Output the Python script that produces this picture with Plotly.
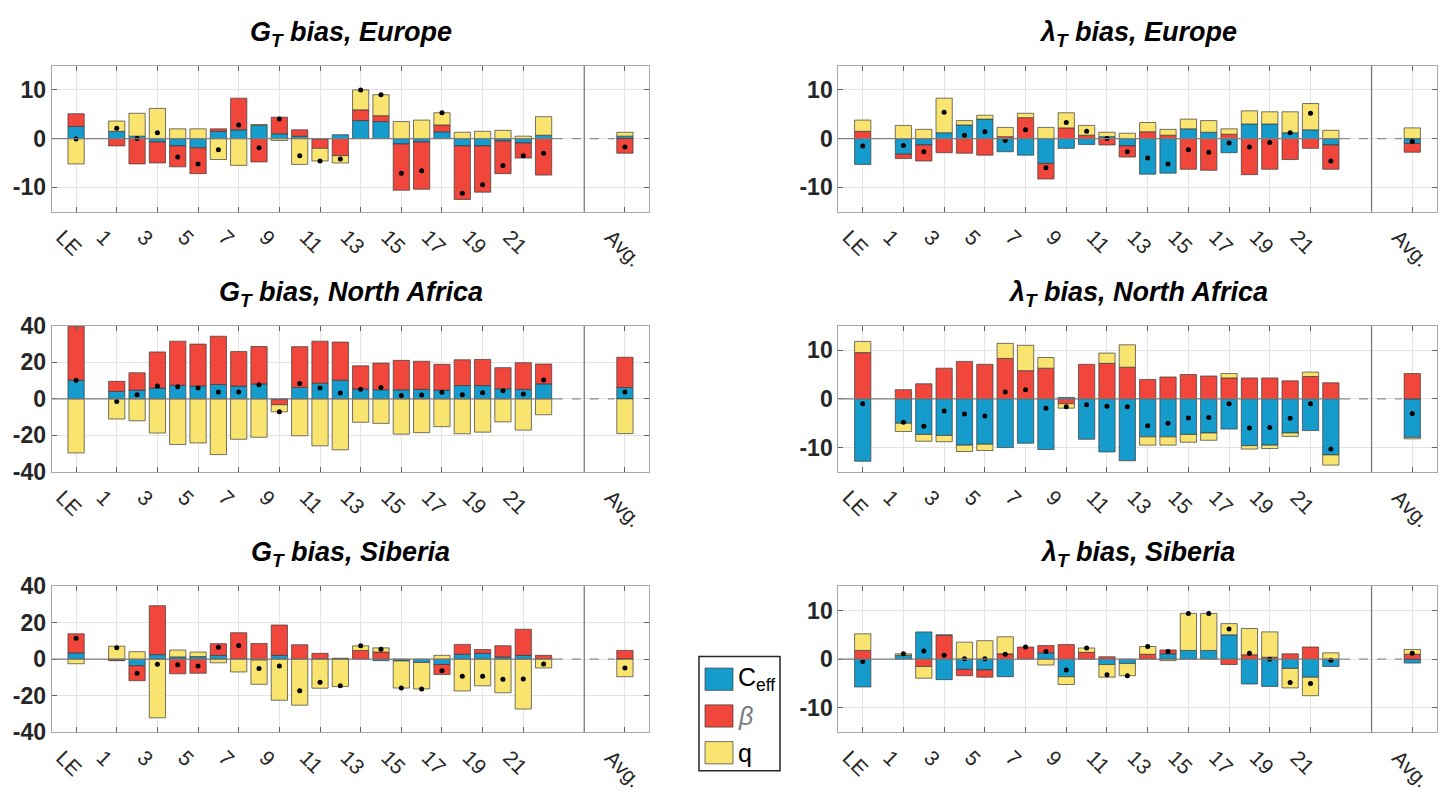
import plotly.graph_objects as go

# ---------------------------------------------------------------- data
CATEGORIES = ["LE"] + [str(n) for n in range(1, 23)] + ["Avg."]
TICK_LABELS = ["LE"] + [str(n) for n in range(1, 22, 2)] + ["Avg."]

# G_T bias, Europe
GT_EUR_CEFF = [2.5, 1.5, 0.5, -0.7, -1.5, -1.9, 1.5, 1.8, 2.7, 1.0, 0.5, -0.1, 0.8, 3.7, 3.5, -1.1, -0.7, 1.4, -1.5, -1.5, -0.5, -0.9, 0.7, 0.5]
GT_EUR_BETA = [2.6, -1.5, -5.2, -4.3, -4.3, -5.3, 0.5, 6.5, -4.8, 3.4, 1.3, -1.9, -3.5, 2.2, 1.2, -9.5, -9.7, 1.4, -11.0, -9.5, -6.7, -3.1, -7.5, -3.0]
GT_EUR_Q = [-5.2, 2.1, 4.7, 6.2, 2.0, 2.0, -4.3, -5.5, 0.2, -0.4, -5.3, -2.6, -1.5, 4.1, 4.3, 3.5, 3.8, 2.5, 1.3, 1.5, 1.7, 0.5, 3.8, 0.8]

# lambda_T bias, Europe
LT_EUR_CEFF = [-5.3, -3.2, -1.3, 1.2, 2.8, 4.0, -2.7, -3.4, -5.1, -2.0, -1.2, 0.4, -1.5, -7.3, -7.1, 2.0, 1.3, -2.9, 3.0, 3.0, 1.2, 1.8, -1.3, -1.0]
LT_EUR_BETA = [1.5, -0.9, -3.3, -2.9, -3.0, -3.4, 0.4, 4.3, -3.2, 2.2, 0.7, -1.3, -2.3, 1.4, 0.7, -6.3, -6.5, 0.9, -7.4, -6.3, -4.3, -2.0, -5.0, -1.8]
LT_EUR_Q = [2.3, 2.7, 1.9, 7.1, 0.9, 0.8, 1.9, 0.9, 2.3, 3.1, 2.0, 0.9, 1.1, 1.9, 1.2, 2.0, 2.4, 1.1, 2.7, 2.5, 4.3, 5.4, 1.7, 2.2]

# G_T bias, North Africa
GT_NAF_CEFF = [10.2, 4.1, 4.8, 5.9, 7.5, 7.1, 7.9, 7.0, 8.2, -0.4, 6.3, 8.6, 10.2, 5.4, 5.0, 5.0, 5.2, 4.8, 7.3, 7.3, 5.5, 5.2, 8.2, 6.2]
GT_NAF_BETA = [29.6, 5.5, 9.5, 19.8, 24.1, 22.9, 26.4, 18.9, 20.5, -2.8, 22.3, 23.0, 20.9, 12.7, 14.6, 16.1, 15.4, 14.1, 14.1, 14.3, 11.6, 14.6, 10.9, 16.6]
GT_NAF_Q = [-29.6, -11.0, -12.0, -18.7, -25.0, -24.1, -30.5, -22.1, -21.0, -3.9, -20.2, -25.7, -27.9, -12.8, -13.4, -19.3, -18.5, -15.2, -19.1, -18.2, -12.6, -17.1, -8.7, -19.0]

# lambda_T bias, North Africa
LT_NAF_CEFF = [-12.8, -5.0, -7.3, -7.5, -9.5, -9.3, -10.0, -9.1, -10.4, 0.3, -8.3, -10.9, -12.7, -7.8, -7.8, -7.3, -7.0, -6.2, -9.6, -9.5, -7.0, -6.5, -11.5, -7.9]
LT_NAF_BETA = [9.5, 1.9, 3.1, 6.3, 7.7, 7.1, 8.3, 5.8, 6.3, -1.0, 7.1, 7.3, 6.5, 4.0, 4.5, 5.0, 4.7, 4.3, 4.3, 4.3, 3.7, 4.6, 3.3, 5.2]
LT_NAF_Q = [2.3, -1.7, -1.4, -1.3, -1.3, -1.3, 3.1, 5.2, 2.2, -0.9, 0.0, 2.1, 4.6, -1.7, -1.7, -1.6, -1.5, 0.9, -0.7, -0.7, -0.7, 0.9, -2.1, -0.3]

# G_T bias, Siberia
GT_SIB_CEFF = [3.4, -0.4, -3.6, 2.5, 1.25, 1.4, 2.1, 0.2, -0.5, 2.1, 0.0, 0.2, 0.3, 0.0, -0.8, -1.0, -1.8, -2.9, 2.7, 3.2, 1.25, 2.1, 0.1, 0.1]
GT_SIB_BETA = [10.5, -0.4, -8.2, 26.8, -8.0, -7.7, 6.4, 14.3, 8.6, 16.6, 7.9, 3.0, 0.2, 4.8, 3.9, 0.0, 0.0, -5.5, 5.4, 2.1, 6.1, 14.3, 2.0, 4.7]
GT_SIB_Q = [-2.5, 7.1, 4.1, -32.1, 3.75, 2.5, -2.0, -7.0, -13.25, -22.5, -25.2, -15.9, -15.0, 2.5, 2.3, -14.8, -14.5, 2.1, -17.4, -14.6, -18.4, -27.3, -4.8, -9.6]

# lambda_T bias, Siberia
LT_SIB_CEFF = [-5.7, 0.8, 5.6, -4.2, -2.1, -2.2, -3.6, 0.0, 1.3, -3.6, 0.0, -1.1, -0.9, 0.0, 1.1, 1.8, 1.8, 5.0, -5.1, -5.6, -1.9, -3.7, -1.5, -0.8]
LT_SIB_BETA = [1.8, 0.0, -1.5, 4.9, -1.3, -1.5, 1.1, 2.5, 1.5, 3.0, 1.4, 0.5, 0.0, 1.0, 0.8, 0.0, 0.0, -1.1, 0.9, 0.4, 1.1, 2.5, 0.0, 1.0]
LT_SIB_Q = [3.4, 0.3, -2.4, 0.1, 3.5, 3.8, 3.5, 0.0, -1.2, -1.6, 0.9, -2.6, -2.5, 1.6, -0.3, 7.6, 7.6, 2.3, 5.4, 5.2, -4.0, -3.8, 1.3, 1.0]

SERIES_NAMES = ["C<sub>eff</sub>", "<i>β</i>", "q"]

# ---------------------------------------------------------------- style
BLUE = "#159BCC"
RED = "#F0463B"
YELLOW = "#F9E46F"
COLORS = [BLUE, RED, YELLOW]
EDGE = "#3b3b3b"
FONT = "Liberation Sans, Arial, Helvetica, sans-serif"
TICK_COLOR = "#262626"
GRID = "#e4e4e4"
FRAME = "#a8a8a8"

W, H = 1445, 803
COLS = [(51.7, 649.3), (838.3, 1436.7)]
ROW_TOPS = [54.3, 323.3, 592.3]
PLOT_H = 151.0
TITLE_Y = [22, 290.5, 559.5]
X_RANGE = [-2.2, 27.2]
SEPARATOR_X = 24
GAP_START, GAP_END = 22.5, 25.5


def cat_pos(c):
    if c == "LE":
        return -1
    if c == "Avg.":
        return 26
    return int(c)


X = [cat_pos(c) for c in CATEGORIES]
TICK_POS = [cat_pos(c) for c in TICK_LABELS]


def px_x(x):
    return x / W


def px_y(y):
    return 1 - y / H


def clean(vals):
    return [v if v != 0 else None for v in vals]


panels = [
    ("G<sub>T</sub> bias, Europe", (GT_EUR_CEFF, GT_EUR_BETA, GT_EUR_Q), 15, [-10, 0, 10], 0, 0),
    ("λ<sub>T</sub> bias, Europe", (LT_EUR_CEFF, LT_EUR_BETA, LT_EUR_Q), 15, [-10, 0, 10], 0, 1),
    ("G<sub>T</sub> bias, North Africa", (GT_NAF_CEFF, GT_NAF_BETA, GT_NAF_Q), 40, [-40, -20, 0, 20, 40], 1, 0),
    ("λ<sub>T</sub> bias, North Africa", (LT_NAF_CEFF, LT_NAF_BETA, LT_NAF_Q), 15, [-10, 0, 10], 1, 1),
    ("G<sub>T</sub> bias, Siberia", (GT_SIB_CEFF, GT_SIB_BETA, GT_SIB_Q), 40, [-40, -20, 0, 20, 40], 2, 0),
    ("λ<sub>T</sub> bias, Siberia", (LT_SIB_CEFF, LT_SIB_BETA, LT_SIB_Q), 15, [-10, 0, 10], 2, 1),
]

fig = go.Figure()
layout = dict(
    width=W, height=H,
    margin=dict(l=0, r=0, t=0, b=0),
    paper_bgcolor="white", plot_bgcolor="white",
    barmode="relative", bargap=0.2,
    showlegend=False,
    font=dict(family=FONT, color=TICK_COLOR),
)
shapes = []
annotations = []

for i, (title, series, ylim, yticks, row, col) in enumerate(panels, start=1):
    xa = "x" if i == 1 else f"x{i}"
    ya = "y" if i == 1 else f"y{i}"
    x0px, x1px = COLS[col]
    top = ROW_TOPS[row]
    bottom = top + PLOT_H

    for name, vals, color in zip(SERIES_NAMES, series, COLORS):
        fig.add_trace(go.Bar(
            x=X, y=clean(vals), name=name, width=0.8,
            marker=dict(color=color, line=dict(color=EDGE, width=0.7)),
            xaxis=xa, yaxis=ya, showlegend=False,
        ))
    net = [round(a + b + c, 3) for a, b, c in zip(*series)]
    fig.add_trace(go.Scatter(
        x=X, y=net, mode="markers",
        marker=dict(color="black", size=5),
        xaxis=xa, yaxis=ya, showlegend=False,
    ))

    layout["xaxis" if i == 1 else f"xaxis{i}"] = dict(
        domain=[px_x(x0px), px_x(x1px)], anchor=ya, range=X_RANGE,
        tickmode="array", tickvals=TICK_POS, ticktext=TICK_LABELS,
        tickangle=45, tickfont=dict(size=21, color=TICK_COLOR, family=FONT),
        ticks="inside", ticklen=5, tickcolor="#606060",
        showline=True, linecolor=FRAME, linewidth=1, mirror="allticks",
        showgrid=True, gridcolor=GRID, gridwidth=1, zeroline=False,
        ticklabelshift=-14, ticklabelstandoff=4,
    )
    layout["yaxis" if i == 1 else f"yaxis{i}"] = dict(
        domain=[px_y(bottom), px_y(top)], anchor=xa, range=[-ylim, ylim],
        tickmode="array", tickvals=yticks, ticktext=[str(v) for v in yticks],
        tickfont=dict(size=23, color=TICK_COLOR, family=FONT, weight="bold"),
        ticks="inside", ticklen=5, tickcolor="#606060",
        showline=True, linecolor=FRAME, linewidth=1, mirror="allticks",
        showgrid=True, gridcolor=GRID, gridwidth=1, zeroline=False,
    )

    # baseline: solid under the bars, dashed across the gap before the average
    shapes.append(dict(type="line", xref=xa, yref=ya, x0=X_RANGE[0], x1=GAP_START,
                       y0=0, y1=0, line=dict(color="#7f7f7f", width=1.2), layer="above"))
    shapes.append(dict(type="line", xref=xa, yref=ya, x0=GAP_START, x1=GAP_END,
                       y0=0, y1=0, line=dict(color="#8c8c8c", width=1.2, dash="dash"), layer="above"))
    # separator between the station bars and the average
    shapes.append(dict(type="line", xref=xa, yref=f"{ya} domain", x0=SEPARATOR_X, x1=SEPARATOR_X,
                       y0=0, y1=1, line=dict(color="#7a7a7a", width=1.3), layer="above"))

    annotations.append(dict(
        text=f"<b><i>{title}</i></b>", xref="paper", yref="paper",
        x=px_x((x0px + x1px) / 2), y=px_y(TITLE_Y[row]),
        xanchor="center", yanchor="middle", showarrow=False,
        font=dict(size=27, color="black", family=FONT),
    ))

# legend box drawn by hand
LEG_BOX = (699, 665, 780, 783)
shapes.append(dict(type="rect", xref="paper", yref="paper",
                   x0=px_x(LEG_BOX[0]), x1=px_x(LEG_BOX[2]),
                   y0=px_y(LEG_BOX[3]), y1=px_y(LEG_BOX[1]),
                   line=dict(color="#262626", width=1.5), fillcolor="white", layer="above"))
for k, (name, color) in enumerate(zip(SERIES_NAMES, COLORS)):
    ytop = 677 + 38 * k
    shapes.append(dict(type="rect", xref="paper", yref="paper",
                       x0=px_x(705), x1=px_x(733), y0=px_y(ytop + 23), y1=px_y(ytop),
                       line=dict(color=EDGE, width=0.7), fillcolor=color, layer="above"))
    annotations.append(dict(
        text=name, xref="paper", yref="paper", x=px_x(736), y=px_y(ytop + 11.5),
        xanchor="left", yanchor="middle", showarrow=False,
        font=dict(size=25, color="#7a7a7a" if k == 1 else "black", family=FONT),
    ))

layout["shapes"] = shapes
layout["annotations"] = annotations
fig.update_layout(**layout)
fig.write_html("out.html")
